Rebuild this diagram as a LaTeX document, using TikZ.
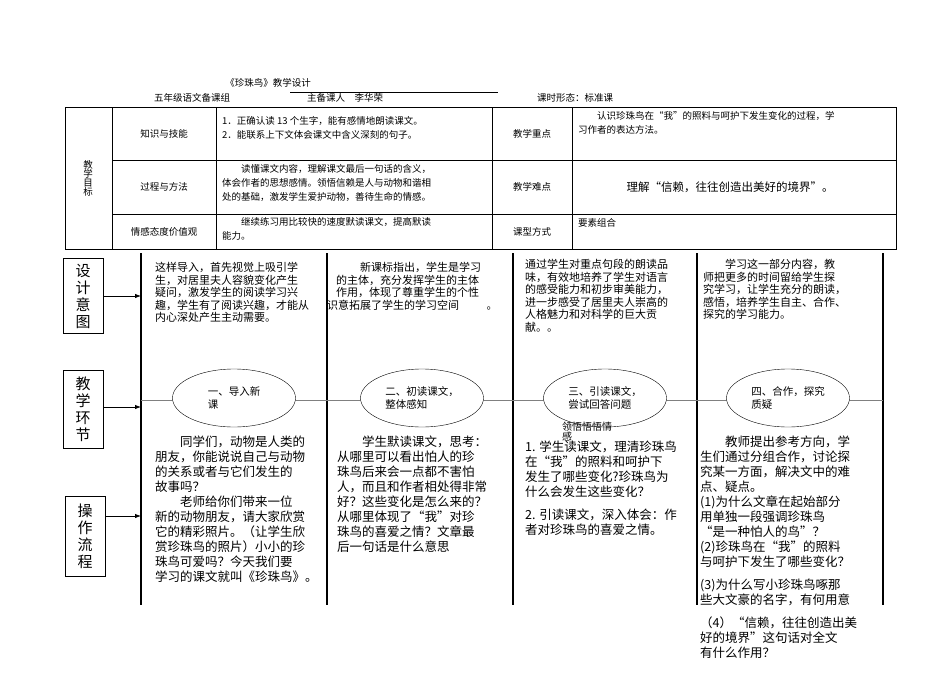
\documentclass[tikz,border=0pt]{standalone}
\usepackage{fontspec}
\setmainfont{Noto Sans CJK SC}
\usetikzlibrary{arrows.meta,shapes.geometric}
\begin{document}
\begin{tikzpicture}[x=1pt,y=-1pt,
  tcell/.style={font=\fontsize{9.5}{14}\selectfont,align=left,anchor=north west,inner sep=0pt},
  lab/.style={font=\fontsize{9.5}{12}\selectfont,inner sep=0pt},
  topblk/.style={font=\fontsize{11}{12.5}\selectfont,align=left,anchor=north west,inner sep=0pt},
  lowblk/.style={font=\fontsize{12.5}{15}\selectfont,align=left,anchor=north west,inner sep=0pt},
  sidebox/.style={draw,thick,minimum width=40pt,align=center,font=\fontsize{15}{17}\selectfont,inner sep=0pt},
  thickline/.style={line width=2pt},
  stage/.style={draw,ellipse,minimum width=123pt,minimum height=58pt,fill=white,align=left,font=\fontsize{10.5}{13}\selectfont},
  arr/.style={-{Latex[length=6pt]},thick}]
\useasboundingbox (0,0) rectangle (950,672);
% header
\node[lab] (title) at (268,83) {《珍珠鸟》教学设计};
\node[lab] (grp) at (192,98) {五年级语文备课组};
\draw (290,92) -- (498,92);
\node[lab] (who) at (345,98) {主备课人\quad 李华荣};
\node[lab] (form) at (575,98) {课时形态：标准课};
% table
\draw[thick] (65,107) rectangle (896,249);
\draw (112,107) -- (112,249) (216,107) -- (216,249) (492,107) -- (492,249) (572,107) -- (572,249);
\draw (112,160) -- (896,160) (112,214) -- (896,214);
\node[lab,align=center] (goal) at (88,178) {教\\[-3pt]学\\[-3pt]目\\[-3pt]标};
\node[lab] (c1) at (164,134) {知识与技能};
\node[lab] (c2) at (164,187) {过程与方法};
\node[lab] (c3) at (164,232) {情感态度价值观};
\node[tcell] (t1) at (222,116) {1．正确认读 13 个生字，能有感情地朗读课文。\\2．能联系上下文体会课文中含义深刻的句子。};
\node[tcell] (t2) at (222,164) {\hspace{2em}读懂课文内容，理解课文最后一句话的含义，\\体会作者的思想感情。领悟信赖是人与动物和谐相\\处的基础，激发学生爱护动物，善待生命的情感。};
\node[tcell] (t3) at (222,217) {\hspace{2em}继续练习用比较快的速度默读课文，提高默读\\能力。};
\node[lab] (k1) at (532,134) {教学重点};
\node[lab] (k2) at (532,187) {教学难点};
\node[lab] (k3) at (532,232) {课型方式};
\node[tcell] (r1) at (578,111) {\hspace{2em}认识珍珠鸟在“我”的照料与呵护下发生变化的过程，学\\习作者的表达方法。};
\node[lab,font=\fontsize{11.5}{13}\selectfont] (r2) at (730,187) {理解“信赖，往往创造出美好的境界”。};
\node[tcell] (r3) at (578,218) {要素组合};
% lower frame
\foreach \x/\n in {141/v0,327/v1,513/v2,697/v3,883/v4}{\draw[thickline] (\x,253) -- (\x,605);}
\draw[thick,gray] (141,400) -- (883,400);
\node[stage] (s1) at (234,398) {一、导入新\\课};
\node[stage] (s2) at (422,398) {二、初读课文，\\整体感知};
\node[stage] (s3) at (605,398) {三、引读课文，\\尝试回答问题};
\node[stage] (s4) at (788,398) {四、合作，探究\\质疑};
\node[sidebox,minimum height=75pt] (b1) at (83,296) {设\\计\\意\\图};
\node[sidebox,minimum height=78pt] (b2) at (83,409) {教\\学\\环\\节};
\node[sidebox,minimum height=80pt] (b3) at (85,536) {操\\作\\流\\程};
\coordinate (e1) at (141,296);
\coordinate (e2) at (141,407);
\coordinate (e3) at (141,516);
\draw[arr] (b1.east) -- (e1);
\draw[arr] (b2.east |- e2) -- (e2);
\draw[arr] (b3.east |- e3) -- (e3);
% top blocks
\node[topblk] (d1) at (155,262) {这样导入，首先视觉上吸引学\\生，对居里夫人容貌变化产生\\疑问，激发学生的阅读学习兴\\趣，学生有了阅读兴趣，才能从\\内心深处产生主动需要。};
\node[topblk] (d2) at (327,262) {\hspace{3em}新课标指出，学生是学习\\\hspace{0.8em}的主体，充分发挥学生的主体\\\hspace{0.8em}作用，体现了尊重学生的个性\\识意拓展了学生的学习空间\hspace{2.5em}。};
\node[topblk] (d3) at (525,259) {通过学生对重点句段的朗读品\\味，有效地培养了学生对语言\\的感受能力和初步审美能力，\\进一步感受了居里夫人崇高的\\人格魅力和对科学的巨大贡\\献。。};
\node[topblk] (d4) at (703,259) {\hspace{2em}学习这一部分内容，教\\师把更多的时间留给学生探\\究学习，让学生充分的朗读，\\感悟，培养学生自主、合作、\\探究的学习能力。};
% lower blocks
\node[lowblk] (o1) at (155,436) {\hspace{2em}同学们，动物是人类的\\朋友，你能说说自己与动物\\的关系或者与它们发生的\\故事吗？\\\hspace{2em}老师给你们带来一位\\新的动物朋友，请大家欣赏\\它的精彩照片。（让学生欣\\赏珍珠鸟的照片）小小的珍\\珠鸟可爱吗？今天我们要\\学习的课文就叫《珍珠鸟》。};
\node[lowblk] (o2) at (337,436) {\hspace{2em}学生默读课文，思考：\\从哪里可以看出怕人的珍\\珠鸟后来会一点都不害怕\\人，而且和作者相处得非常\\好？这些变化是怎么来的？\\从哪里体现了“我”对珍\\珠鸟的喜爱之情？文章最\\后一句话是什么意思};
\node[lab,font=\fontsize{10}{8}\selectfont,align=left] (o3a) at (587,432) {领悟悟悟情\\感};
\node[lowblk] (o3) at (525,441) {1. 学生读课文，理清珍珠鸟\\在“我”的照料和呵护下\\发生了哪些变化?珍珠鸟为\\什么会发生这些变化？\\[8pt]2. 引读课文，深入体会：作\\者对珍珠鸟的喜爱之情。};
\node[lowblk] (o4) at (700,436) {\hspace{2em}教师提出参考方向，学\\生们通过分组合作，讨论探\\究某一方面，解决文中的难\\点、疑点。\\(1)为什么文章在起始部分\\用单独一段强调珍珠鸟\\“是一种怕人的鸟”？\\(2)珍珠鸟在“我”的照料\\与呵护下发生了哪些变化？\\[8pt](3)为什么写小珍珠鸟啄那\\些大文豪的名字，有何用意\\[8pt]（4）“信赖，往往创造出美\\好的境界”这句话对全文\\有什么作用？};
\end{tikzpicture}
\end{document}
